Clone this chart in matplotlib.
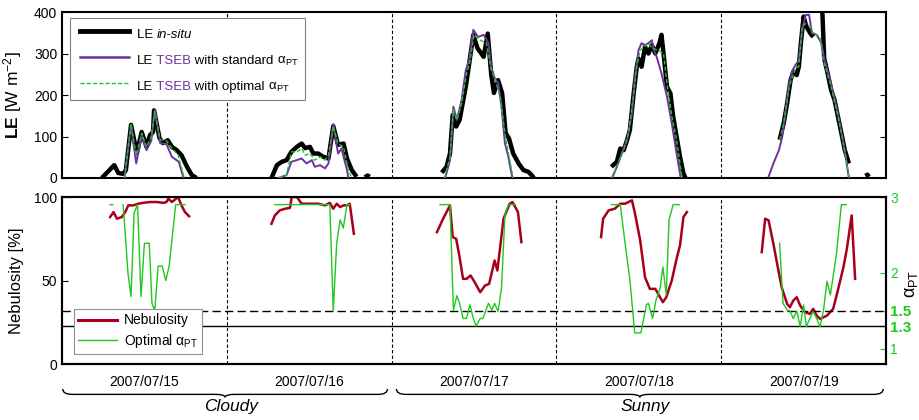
import numpy as np
import matplotlib
matplotlib.use("Agg")
import matplotlib.pyplot as plt
from matplotlib.path import Path
from matplotlib.patches import PathPatch
from matplotlib.lines import Line2D
from matplotlib.offsetbox import (AnchoredOffsetbox, HPacker, VPacker,
                                  TextArea, DrawingArea)
from matplotlib.transforms import blended_transform_factory

plt.rcParams["font.family"] = ["Liberation Sans", "DejaVu Sans"]
plt.rcParams["mathtext.fontset"] = "custom"
plt.rcParams["mathtext.rm"] = "Liberation Sans"
plt.rcParams["mathtext.it"] = "Liberation Sans:italic"
plt.rcParams["mathtext.bf"] = "Liberation Sans:bold"

nan = np.nan

# time in hours since 2007/07/15 00:00, (hour, value); (nan, nan) = gap
le_insitu = [
    (5.8, 0), (7.6, 31), (8.2, 12), (8.9, 10), (9.3, 19), (10.05, 128), (10.9, 60),
    (11.6, 111), (12.3, 75), (12.8, 103), (13.25, 111), (13.4, 163), (14.2, 96),
    (14.7, 84), (15.4, 91), (16.0, 75), (16.7, 67), (17.4, 55), (18.2, 27),
    (18.9, 7), (19.6, 0), (nan, nan),
    (30.5, 0), (31.3, 31), (32.0, 39), (32.7, 43), (33.4, 63), (34.2, 75), (34.9, 83),
    (35.4, 72), (36.1, 75), (36.6, 59), (37.3, 59), (38.05, 51), (38.8, 47),
    (39.5, 125), (40.2, 80), (41.0, 83), (41.5, 47), (42.2, 19), (42.9, 3), (nan, nan),
    (44.1, 2), (44.5, 6), (44.8, 3), (nan, nan),
    (55.3, 13), (56.0, 27), (56.5, 59), (56.9, 152), (57.4, 124), (57.9, 140),
    (58.35, 180), (58.8, 220), (59.3, 276), (59.9, 345), (60.5, 313), (61.4, 292),
    (62.0, 348), (62.5, 250), (62.9, 205), (63.5, 236), (64.1, 204), (64.6, 108),
    (65.1, 95), (65.7, 59), (66.5, 35), (67.2, 19), (67.9, 15), (68.5, 5), (68.7, 0),
    (nan, nan),
    (80.0, 27), (80.8, 39), (81.3, 71), (81.8, 67), (82.3, 92), (82.7, 116),
    (83.2, 196), (83.7, 268), (83.95, 288), (84.4, 268), (84.9, 316), (85.4, 300),
    (85.9, 320), (86.4, 300), (87.0, 325), (87.3, 345), (87.6, 300), (88.1, 220),
    (88.6, 204), (89.0, 148), (89.5, 100), (90.0, 51), (90.5, 11), (90.8, 0),
    (nan, nan),
    (104.5, 92), (105.1, 132), (105.6, 180), (106.1, 236), (106.5, 256), (107.0, 248),
    (107.3, 268), (107.6, 325), (108.0, 389), (108.4, 365), (109.0, 348),
    (109.4, 340), (nan, nan),
    (110.6, 430), (110.75, 392), (111.0, 288), (111.5, 252), (112.0, 212),
    (112.5, 188), (113.0, 148), (113.5, 108), (114.0, 67), (114.6, 35), (nan, nan),
    (117.0, 5), (117.3, 8), (117.5, 3),
]

le_standard = [
    (9.1, 0), (10.05, 128), (10.8, 35), (11.6, 103), (12.3, 67), (13.0, 90),
    (13.5, 164), (14.3, 84), (15.2, 82), (16.0, 51), (17.0, 39), (17.7, 0), (nan, nan),
    (31.5, 0), (32.7, 7), (33.4, 39), (34.2, 43), (34.9, 47), (35.6, 35), (36.4, 43),
    (36.8, 27), (37.6, 31), (38.3, 23), (38.8, 35), (39.5, 130), (40.2, 59),
    (40.7, 71), (41.5, 19), (41.7, 0), (nan, nan),
    (55.8, 0), (56.5, 43), (57.0, 172), (57.5, 140), (58.2, 188), (58.8, 260),
    (59.3, 284), (59.9, 357), (60.6, 340), (61.4, 345), (62.1, 325), (62.5, 268),
    (63.1, 236), (63.5, 230), (64.0, 172), (64.5, 84), (65.0, 51), (65.5, 7),
    (65.6, 0), (nan, nan),
    (80.2, 3), (81.0, 35), (81.5, 59), (82.3, 92), (83.0, 156), (83.4, 236),
    (83.95, 308), (84.4, 325), (84.9, 320), (85.4, 325), (85.9, 332), (86.1, 313),
    (86.6, 292), (87.3, 252), (88.1, 196), (88.8, 132), (89.5, 59), (90.0, 11),
    (90.1, 0), (nan, nan),
    (102.9, 3), (103.6, 35), (104.4, 67), (104.9, 100), (105.4, 164), (105.9, 228),
    (106.4, 260), (106.8, 272), (107.3, 284), (107.8, 357), (108.3, 393),
    (108.8, 393), (109.2, 350), (109.9, 345), (110.6, 325), (111.0, 288),
    (112.0, 228), (113.0, 156), (113.7, 92), (114.2, 43), (114.6, 0),
]

le_optimal = [
    (9.1, 0), (10.05, 130), (10.8, 55), (11.6, 108), (12.3, 75), (13.0, 100),
    (13.5, 160), (14.3, 92), (15.2, 90), (16.0, 72), (16.9, 55), (17.8, 0), (nan, nan),
    (31.6, 0), (32.7, 7), (33.4, 63), (34.2, 63), (34.9, 71), (35.4, 55), (36.1, 59),
    (36.8, 43), (37.6, 51), (38.3, 43), (38.8, 55), (39.5, 125), (40.2, 83),
    (41.0, 75), (41.7, 19), (42.2, 0), (nan, nan),
    (55.7, 0), (56.5, 50), (57.0, 165), (57.5, 140), (58.2, 180), (58.9, 250),
    (59.4, 280), (60.0, 345), (60.9, 332), (61.8, 325), (62.5, 260), (63.1, 236),
    (63.8, 196), (64.5, 108), (65.0, 60), (65.7, 0), (nan, nan),
    (80.0, 0), (81.0, 35), (81.8, 67), (82.5, 108), (83.2, 196), (83.7, 268),
    (84.2, 308), (85.4, 325), (85.9, 313), (86.8, 308), (87.6, 300), (88.1, 228),
    (88.8, 150), (89.5, 92), (90.3, 0), (nan, nan),
    (104.5, 92), (105.1, 132), (105.9, 220), (106.8, 264), (107.3, 268),
    (107.8, 365), (108.2, 372), (109.0, 365), (109.4, 348), (110.4, 340),
    (110.8, 288), (112.0, 220), (113.0, 148), (114.0, 67), (114.6, 0),
]

nebulosity = [
    (7.0, 88), (7.5, 91), (8.0, 87), (8.7, 88), (9.2, 91), (9.65, 95), (10.4, 95),
    (11.1, 96), (11.8, 96.5), (12.8, 97), (13.8, 97), (14.75, 96.5), (15.2, 97),
    (15.5, 99), (16.0, 97), (16.45, 98.5), (16.9, 100), (17.4, 95), (17.9, 91),
    (18.5, 88.5), (nan, nan),
    (30.5, 84), (31.0, 89), (31.7, 92), (32.5, 93), (33.2, 93.5), (33.45, 100),
    (34.2, 100), (34.9, 96), (35.9, 96), (37.3, 96), (38.3, 95), (39.0, 96.5),
    (39.5, 93), (40.0, 96), (40.5, 94), (41.0, 95), (41.5, 95), (41.9, 96),
    (42.5, 78), (nan, nan),
    (54.6, 79), (55.5, 87), (56.5, 95), (56.9, 76), (57.4, 75), (57.9, 64),
    (58.4, 51), (58.9, 51), (59.5, 53), (60.1, 49), (60.9, 43), (61.6, 47),
    (62.2, 48), (63.0, 62), (63.4, 56), (64.3, 87), (65.2, 96), (65.6, 97),
    (66.4, 91), (66.9, 73), (nan, nan),
    (78.5, 76), (78.8, 87), (79.6, 92), (80.5, 93), (81.3, 96), (82.0, 96),
    (83.0, 98), (83.4, 91), (84.2, 74), (84.9, 52), (85.6, 45), (86.4, 45),
    (87.5, 37), (88.0, 40), (88.8, 50), (89.5, 63), (90.0, 71), (90.5, 88),
    (91.0, 91), (nan, nan),
    (101.9, 67), (102.4, 87), (102.9, 86), (103.6, 72), (104.1, 61), (104.8, 46),
    (105.6, 36), (106.0, 34), (106.5, 38), (107.0, 40), (107.5, 35), (108.2, 31),
    (108.9, 30), (109.4, 33), (109.9, 29), (110.4, 27), (111.4, 29), (112.3, 33),
    (113.1, 46), (113.8, 58), (114.3, 69), (115.0, 89), (115.5, 51),
]

alpha_opt = [
    (7.0, 2.9), (7.4, 2.9), (nan, nan),
    (8.9, 2.9), (9.6, 2.0), (10.05, 1.69), (10.5, 2.79), (11.0, 2.9), (11.5, 1.69),
    (12.0, 2.39), (12.7, 2.39), (13.1, 1.6), (13.5, 1.5), (14.0, 2.09), (14.6, 2.09),
    (15.1, 1.9), (15.6, 2.09), (16.55, 2.9), (17.9, 2.9), (nan, nan),
    (31.0, 2.9), (39.0, 2.9), (39.5, 1.5), (40.0, 2.39), (40.5, 2.7), (40.95, 2.59),
    (41.5, 2.9), (41.9, 2.9), (nan, nan),
    (55.05, 2.9), (56.5, 2.9), (57.0, 1.51), (57.5, 1.7), (57.9, 1.6), (58.4, 1.4),
    (58.9, 1.4), (59.4, 1.58), (59.9, 1.4), (60.3, 1.3), (60.9, 1.4), (61.3, 1.4),
    (62.1, 1.6), (62.6, 1.51), (63.0, 1.6), (63.5, 1.49), (64.0, 1.8), (64.5, 2.76),
    (65.0, 2.9), (66.0, 2.9), (nan, nan),
    (80.0, 2.9), (81.3, 2.9), (82.0, 2.39), (82.7, 1.91), (83.4, 1.21), (84.3, 1.21),
    (85.1, 1.58), (85.4, 1.6), (86.0, 1.4), (86.5, 1.64), (87.1, 1.8), (87.5, 2.08),
    (88.0, 1.71), (88.4, 2.7), (89.0, 2.9), (89.9, 2.9), (nan, nan),
    (104.5, 2.39), (105.0, 1.6), (105.6, 1.51), (106.0, 1.5), (106.5, 1.4),
    (107.0, 1.5), (107.5, 1.29), (108.0, 1.58), (108.4, 1.29), (108.9, 1.4),
    (109.4, 1.49), (109.9, 1.4), (110.4, 1.29), (110.9, 1.51), (111.4, 1.89),
    (111.9, 1.71), (112.8, 2.26), (113.5, 2.9), (114.2, 2.9),
]

dates = ["2007/07/15", "2007/07/16", "2007/07/17", "2007/07/18", "2007/07/19"]
day_edges = [24, 48, 72, 96]
alpha_thresholds = [1.5, 1.3]
sky_groups = [("Cloudy", 0.1, 47.4), ("Sunny", 48.7, 119.6)]

BLACK = "black"
PURPLE = "#7030A0"
GREEN = "#1ec81e"
RED = "#A8001C"
FS = 10


def xy(pairs):
    a = np.array(pairs, dtype=float)
    return a[:, 0], a[:, 1]


fig = plt.figure(figsize=(9.19, 4.2), dpi=100)
ax1 = fig.add_axes([0.0675, 0.5762, 0.8966, 0.3952])
ax2 = fig.add_axes([0.0675, 0.1333, 0.8966, 0.3976])
ax3 = ax2.twinx()

# ---- top: LE ----
t, v = xy(le_insitu)
ax1.plot(t, v, color=BLACK, lw=3.2, solid_capstyle="butt", zorder=2)
t, v = xy(le_standard)
ax1.plot(t, v, color=PURPLE, lw=1.4, zorder=3)
t, v = xy(le_optimal)
ax1.plot(t, v, color=GREEN, lw=1.0, ls=(0, (3, 1.5)), zorder=4)
ax1.set_xlim(0, 120)
ax1.set_ylim(0, 400)
ax1.set_yticks([0, 100, 200, 300, 400])
ax1.set_xticks([])
ax1.tick_params(axis="y", direction="in", right=True, labelsize=FS, length=4)
ax1.set_ylabel(r"$\mathbf{LE}$ [W m$^{-2}$]", fontsize=12.5)
ax1.yaxis.set_label_coords(-0.046, 0.5)

# ---- bottom: nebulosity + alpha ----
t, v = xy(nebulosity)
ax2.plot(t, v, color=RED, lw=1.8, zorder=3)
ax2.set_xlim(0, 120)
ax2.set_ylim(0, 100)
ax2.set_yticks([0, 50, 100])
ax2.set_xticks([12, 36, 60, 84, 108])
ax2.set_xticklabels(dates)
ax2.tick_params(axis="x", length=0, pad=8, labelsize=FS)
ax2.tick_params(axis="y", direction="in", labelsize=FS, length=4)
ax2.set_ylabel("Nebulosity [%]", fontsize=12)
ax2.yaxis.set_label_coords(-0.046, 0.5)

t, v = xy(alpha_opt)
ax3.plot(t, v, color=GREEN, lw=1.0, zorder=3)
ax3.axhline(alpha_thresholds[0], color="black", lw=1.0, ls=(0, (6, 3)), zorder=2)
ax3.axhline(alpha_thresholds[1], color="black", lw=1.0, zorder=2)
ax3.set_ylim(0.8, 3)
ax3.set_yticks([1, 1.3, 1.5, 2, 3])
ax3.set_yticklabels(["1", "1.3", "1.5", "2", "3"])
ax3.tick_params(axis="y", direction="in", labelsize=FS, colors=GREEN, length=4,
                pad=3)
for lab in ax3.get_yticklabels():
    if lab.get_text() in ("1.3", "1.5"):
        lab.set_fontweight("bold")
        lab.set_fontsize(11)
for tk in ax3.yaxis.get_major_ticks():
    tk.tick2line.set_color("black")
ax3.set_ylabel("α$_{\\rm PT}$", fontsize=13, rotation=90, va="center")
ax3.yaxis.set_label_coords(1.031, 0.48)

for ax in (ax1, ax2):
    for x in day_edges:
        ax.axvline(x, color="black", lw=0.8, ls=(0, (3, 2)), zorder=1)
for ax in (ax1, ax2, ax3):
    for s in ax.spines.values():
        s.set_linewidth(1.5)

# ---- legends ----
def row(line_kw, pieces):
    da = DrawingArea(44, 10, 0, 0)
    da.add_artist(Line2D([3, 38], [5, 5], **line_kw))
    boxes = [da] + [TextArea(s, textprops=dict(fontsize=9.5, **kw))
                    for s, kw in pieces]
    return HPacker(children=boxes, align="baseline", pad=0, sep=0)


alpha_txt = " α$_{\\rm PT}$"
rows = [
    row(dict(color=BLACK, lw=3.5), [("LE ", {}), ("in-situ", dict(style="italic"))]),
    row(dict(color=PURPLE, lw=1.8), [("LE", {}), (" TSEB", dict(color=PURPLE)),
                                     (" with standard", {}), (alpha_txt, {})]),
    row(dict(color=GREEN, lw=1.0, ls=(0, (3, 1.5))),
        [("LE", {}), (" TSEB", dict(color=PURPLE)),
         (" with optimal", {}), (alpha_txt, {})]),
]
pack = VPacker(children=rows, align="left", pad=0, sep=6)
leg = AnchoredOffsetbox(loc="upper left", child=pack, pad=0.45, borderpad=0,
                        frameon=True, bbox_to_anchor=(0.0095, 0.963),
                        bbox_transform=ax1.transAxes)
leg.patch.set_edgecolor("#808080")
leg.patch.set_linewidth(0.8)
leg.patch.set_boxstyle("square", pad=0)
ax1.add_artist(leg)

h1 = Line2D([], [], color=RED, lw=2.2)
h2 = Line2D([], [], color=GREEN, lw=1.0)
lg = ax3.legend([h1, h2], ["Nebulosity", "Optimal α$_{\\rm PT}$"],
                loc="lower left", bbox_to_anchor=(0.006, 0.02), fontsize=10,
                fancybox=False, framealpha=1, edgecolor="#909090",
                handlelength=2.8, borderpad=0.3, labelspacing=0.3,
                handletextpad=0.5)
lg.get_frame().set_linewidth(0.8)

# ---- braces + sky labels ----
tr = blended_transform_factory(ax2.transData, fig.transFigure)
yt, yb, ytip = 0.074, 0.061, 0.054
for name, x0, x1 in sky_groups:
    xm = (x0 + x1) / 2
    w = 1.4
    verts = [(x0, yt), (x0, yb), (x0 + w, yb),
             (xm - w, yb), (xm, yb), (xm, ytip),
             (xm, yb), (xm + w, yb),
             (x1 - w, yb), (x1, yb), (x1, yt)]
    codes = [Path.MOVETO, Path.CURVE3, Path.CURVE3,
             Path.LINETO, Path.CURVE3, Path.CURVE3,
             Path.CURVE3, Path.CURVE3,
             Path.LINETO, Path.CURVE3, Path.CURVE3]
    fig.add_artist(PathPatch(Path(verts, codes), fill=False, lw=1.0,
                             edgecolor="black", transform=tr))
    fig.text(xm + 0.8, 0.031, name, transform=tr, ha="center", va="center",
             fontsize=12.5, style="italic")

fig.savefig("out.png", dpi=100)
